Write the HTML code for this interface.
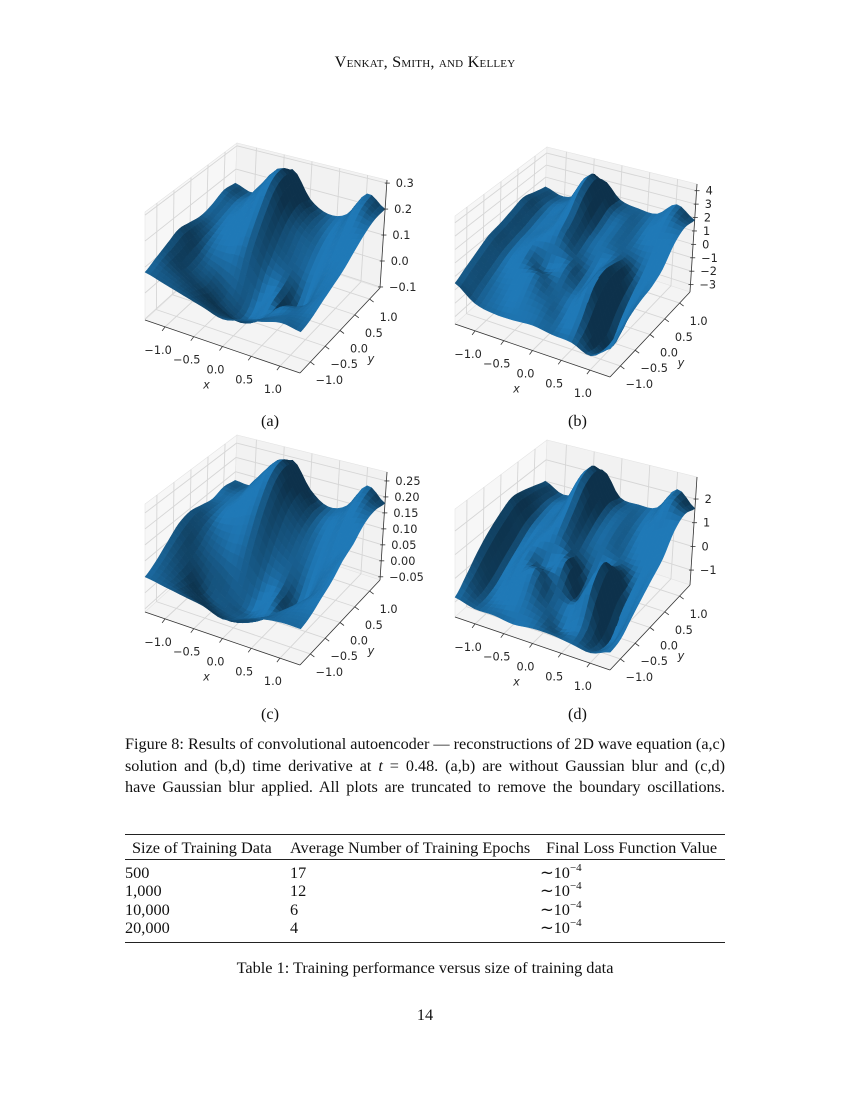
<!DOCTYPE html>
<html><head><meta charset="utf-8">
<style>
html,body{margin:0;padding:0;background:#fff;}
#page{position:relative;width:850px;height:1100px;overflow:hidden;font-family:"Liberation Serif",serif;color:#111;}
.t{position:absolute;white-space:nowrap;font-size:16.3px;}
.cap{position:absolute;left:125px;width:600px;font-size:16.2px;text-align:justify;text-align-last:justify;white-space:nowrap;}
.rule{position:absolute;left:125px;width:600px;background:#222;}
.sup{font-size:11px;position:relative;top:-7px;}
svg text{font-family:"DejaVu Sans",sans-serif;font-size:11.3px;fill:#262626;}
</style></head>
<body>
<div id="page">
<div class="t" style="left:0;width:850px;text-align:center;top:52px;font-size:16.3px;font-variant:small-caps;letter-spacing:0.2px;">Venkat, Smith, and Kelley</div>

<svg id="figs" width="850" height="1100" style="position:absolute;left:0;top:0"></svg>

<div class="t" style="left:261px;top:411px;">(a)</div>
<div class="t" style="left:568px;top:411px;">(b)</div>
<div class="t" style="left:261px;top:704px;">(c)</div>
<div class="t" style="left:568px;top:704px;">(d)</div>

<div class="cap" style="top:735px;">Figure 8: Results of convolutional autoencoder — reconstructions of 2D wave equation (a,c)</div>
<div class="cap" style="top:757px;">solution and (b,d) time derivative at <i>t</i> = 0.48. (a,b) are without Gaussian blur and (c,d)</div>
<div class="cap" style="top:778px;">have Gaussian blur applied. All plots are truncated to remove the boundary oscillations.</div>

<div>
<div class="rule" style="top:834px;height:1.3px;"></div>
<div class="t" style="left:132px;top:838px;">Size of Training Data</div>
<div class="t" style="left:290px;top:838px;">Average Number of Training Epochs</div>
<div class="t" style="left:546px;top:838px;">Final Loss Function Value</div>
<div class="rule" style="top:859px;height:0.8px;"></div>
<div class="t" style="left:125px;top:863px;">500</div>
<div class="t" style="left:290px;top:863px;">17</div>
<div class="t" style="left:540px;top:863px;">∼10<span class="sup">−4</span></div>
<div class="t" style="left:125px;top:881px;">1,000</div>
<div class="t" style="left:290px;top:881px;">12</div>
<div class="t" style="left:540px;top:881px;">∼10<span class="sup">−4</span></div>
<div class="t" style="left:125px;top:900px;">10,000</div>
<div class="t" style="left:290px;top:900px;">6</div>
<div class="t" style="left:540px;top:900px;">∼10<span class="sup">−4</span></div>
<div class="t" style="left:125px;top:918px;">20,000</div>
<div class="t" style="left:290px;top:918px;">4</div>
<div class="t" style="left:540px;top:918px;">∼10<span class="sup">−4</span></div>
<div class="rule" style="top:942px;height:1.3px;"></div>
</div>
<div class="t" style="left:0;width:850px;text-align:center;top:958px;">Table 1: Training performance versus size of training data</div>
<div class="t" style="left:0;width:850px;text-align:center;top:1005px;">14</div>
</div>

<script>
// ---- data ----
const xTicks = [-1.0, -0.5, 0.0, 0.5, 1.0];
const yTicks = [-1.0, -0.5, 0.0, 0.5, 1.0];
const xyRange = [-1.35, 1.35];
const zTicksA = [-0.1, 0.0, 0.1, 0.2, 0.3];
const zTicksB = [-3, -2, -1, 0, 1, 2, 3, 4];
const zTicksC = [-0.05, 0.00, 0.05, 0.10, 0.15, 0.20, 0.25];
const zTicksD = [-1, 0, 1, 2];
const zLimA = [-0.104, 0.312];
const zLimB = [-3.55, 4.5];
const zLimC = [-0.06, 0.278];
const zLimD = [-1.63, 2.93];
// rows: y = -1 .. 1 (9 rows); cols: x = -1 .. 1 (9 cols)
const surfA = [
[0.08,0.06,0.04,0.02,0.00,0.02,0.04,0.06,0.05],
[0.10,0.06,0.02,-0.02,-0.04,-0.02,0.02,0.05,0.06],
[0.12,0.05,0.00,-0.06,-0.09,-0.05,0.02,0.04,0.08],
[0.14,0.06,0.02,-0.03,-0.08,-0.02,-0.08,0.03,0.10],
[0.13,0.08,0.08,0.10,0.02,0.00,-0.06,0.06,0.12],
[0.12,0.10,0.14,0.20,0.10,0.04,0.02,0.10,0.15],
[0.13,0.12,0.20,0.28,0.16,0.10,0.08,0.16,0.18],
[0.15,0.13,0.22,0.30,0.18,0.12,0.12,0.22,0.20],
[0.14,0.12,0.18,0.26,0.16,0.12,0.14,0.24,0.20]];
const surfB = [
[-0.5,-1.5,-1.8,-1.8,-1.7,-1.9,-2.0,-2.5,-1.5],
[0.0,-1.0,-1.2,-0.8,-1.0,-1.5,-1.0,-3.0,-1.0],
[0.5,-0.5,-0.3,0.2,-0.5,-0.8,0.5,-3.2,-0.5],
[1.0,0.0,0.5,-0.2,0.3,-0.5,1.0,-2.0,-0.2],
[1.2,0.3,1.0,1.5,0.5,0.0,0.8,-1.0,0.0],
[1.5,0.5,1.2,2.5,1.0,0.8,0.5,-0.2,0.5],
[1.8,0.8,1.5,3.8,1.5,1.2,0.8,1.0,1.5],
[1.5,1.0,1.8,4.2,2.0,1.5,1.2,2.2,2.0],
[1.2,0.8,1.5,3.0,1.8,1.5,1.5,2.6,1.8]];
const surfC = [
[0.05,0.04,0.03,0.02,0.00,0.02,0.04,0.05,0.05],
[0.07,0.04,0.00,-0.03,-0.04,-0.02,0.02,0.05,0.06],
[0.10,0.05,-0.02,-0.05,-0.06,-0.04,0.00,0.05,0.08],
[0.13,0.07,0.02,-0.03,-0.06,-0.02,-0.05,0.04,0.10],
[0.14,0.10,0.08,0.08,0.02,0.00,-0.04,0.06,0.13],
[0.13,0.12,0.15,0.18,0.10,0.05,0.03,0.10,0.15],
[0.12,0.13,0.20,0.25,0.16,0.10,0.09,0.16,0.18],
[0.13,0.13,0.21,0.27,0.18,0.12,0.13,0.20,0.19],
[0.12,0.12,0.18,0.24,0.16,0.12,0.14,0.22,0.18]];
const surfD = [
[-0.8,-1.0,-1.0,-1.1,-1.0,-1.0,-1.1,-1.2,-0.9],
[-0.3,-1.0,-0.8,-0.5,-0.8,-1.2,-0.8,-1.5,-0.8],
[0.3,-0.8,-0.2,0.4,-0.4,-0.6,0.5,-1.5,-0.4],
[0.8,-0.4,0.3,0.0,0.5,-0.8,1.0,-0.8,0.0],
[1.2,0.0,0.6,1.0,0.4,-0.2,0.4,-0.3,0.4],
[1.5,0.4,0.8,1.8,0.8,0.5,0.2,0.2,0.8],
[1.4,0.6,1.0,2.6,1.2,0.9,0.6,1.0,1.5],
[1.2,0.7,1.2,2.8,1.4,1.1,1.0,2.0,1.8],
[1.0,0.6,1.0,2.2,1.2,1.1,1.2,2.2,1.6]];

const NS='http://www.w3.org/2000/svg';
const svg=document.getElementById('figs');
const C={'---':[145,320],'+--':[300,373],'++-':[380,288],'-+-':[233,240],
         '--+':[145,212],'+-+':[302,262],'+++':[387,180],'-++':[237,143]};
function mk(tag,attrs,parent){const e=document.createElementNS(NS,tag);for(const k in attrs)e.setAttribute(k,attrs[k]);parent.appendChild(e);return e;}
function cr(p0,p1,p2,p3,t){return 0.5*((2*p1)+(-p0+p2)*t+(2*p0-5*p1+4*p2-p3)*t*t+(-p0+3*p1-3*p2+p3)*t*t*t);}
function sampleRow(r,fx){const n=r.length;let i=Math.min(Math.floor(fx),n-2);const t=fx-i;const g=k=>r[Math.max(0,Math.min(n-1,k))];return cr(g(i-1),g(i),g(i+1),g(i+2),t);}
function sample(G,fx,fy){const n=G.length;let j=Math.min(Math.floor(fy),n-2);const t=fy-j;const g=k=>sampleRow(G[Math.max(0,Math.min(n-1,k))],fx);return cr(g(j-1),g(j),g(j+1),g(j+2),t);}

function panel(name,dx,dy,G,zLim,zTicks){
  const grp=mk('g',{transform:`translate(${dx},${dy})`},svg);
  
  
  function P(u,v,w){const a=(u+1)/2,b=(v+1)/2,c=(w+1)/2;let x=0,y=0;
    for(const su of [0,1])for(const sv of [0,1])for(const sw of [0,1]){
      const wt=(su?a:1-a)*(sv?b:1-b)*(sw?c:1-c);
      const p=C[(su?'+':'-')+(sv?'+':'-')+(sw?'+':'-')];x+=wt*p[0];y+=wt*p[1];}
    return [x,y];}
  const xs=t=>2*(t-xyRange[0])/(xyRange[1]-xyRange[0])-1;
  const zs=z=>2*(z-zLim[0])/(zLim[1]-zLim[0])-1;
  const poly=(pts,attrs)=>mk('polygon',Object.assign({points:pts.map(p=>p[0].toFixed(1)+','+p[1].toFixed(1)).join(' ')},attrs),grp);
  const line=(a,b,attrs)=>mk('line',Object.assign({x1:a[0],y1:a[1],x2:b[0],y2:b[1]},attrs),grp);
  const pl=poly([P(-1,-1,-1),P(-1,1,-1),P(-1,1,1),P(-1,-1,1)],{fill:'#f7f7f7',stroke:'#e4e4e4','stroke-width':0.6});
  
  const pb=poly([P(-1,1,-1),P(1,1,-1),P(1,1,1),P(-1,1,1)],{fill:'#f2f2f2',stroke:'#e4e4e4','stroke-width':0.6});
  
  const pf=poly([P(-1,-1,-1),P(1,-1,-1),P(1,1,-1),P(-1,1,-1)],{fill:'#f4f4f4',stroke:'#e4e4e4','stroke-width':0.6});
  
  const gs={stroke:'#d6d6d6','stroke-width':0.9};
  xTicks.forEach(t=>{const u=xs(t);line(P(u,-1,-1),P(u,1,-1),gs);line(P(u,1,-1),P(u,1,1),gs);});
  yTicks.forEach(t=>{const v=xs(t);line(P(-1,v,-1),P(1,v,-1),gs);line(P(-1,v,-1),P(-1,v,1),gs);});
  zTicks.forEach(t=>{const w=zs(t);line(P(-1,-1,w),P(-1,1,w),gs);line(P(-1,1,w),P(1,1,w),gs);});
  const ax={stroke:'#333','stroke-width':0.8};
  const xa=line(P(-1,-1,-1),P(1,-1,-1),ax);
  const ya=line(P(1,-1,-1),P(1,1,-1),ax);
  const za=line(P(1,1,-1),P(1,1,1),ax);
  const N=4,n=G.length,M=(n-1)*N;
  const pts=[];
  for(let j=0;j<=M;j++){pts.push([]);for(let i=0;i<=M;i++){
    const z=sample(G,i/N,j/N);const u=-1+2*i/M,v=-1+2*j/M;pts[j].push([u,v,Math.max(-1.05,Math.min(1.05,zs(z)))]);}}
  const quads=[];
  for(let j=0;j<M;j++)for(let i=0;i<M;i++){
    const a=pts[j][i],b=pts[j][i+1],c=pts[j+1][i+1],d=pts[j+1][i];
    const cu=(a[0]+c[0])/2,cv=(a[1]+c[1])/2,cw=(a[2]+b[2]+c[2]+d[2])/4;
    const depth=0.433*cu-0.75*cv+0.375*cw;
    const e1=[c[0]-a[0],c[1]-a[1],(c[2]-a[2])*0.75],e2=[d[0]-b[0],d[1]-b[1],(d[2]-b[2])*0.75];
    let nx=e1[1]*e2[2]-e1[2]*e2[1],ny=e1[2]*e2[0]-e1[0]*e2[2],nz=e1[0]*e2[1]-e1[1]*e2[0];
    const L=Math.hypot(nx,ny,nz)||1;nx/=L;ny/=L;nz/=L;if(nz<0){nx=-nx;ny=-ny;nz=-nz;}
    const lx=-0.45,ly=-0.55,lz=0.70;const dot=Math.max(0,nx*lx+ny*ly+nz*lz);
    const k=Math.min(1.02,0.42+0.62*dot);
    quads.push({depth,q:[a,b,c,d],k});}
  quads.sort((p,q)=>p.depth-q.depth);
  const sg=mk('g',{},grp);
  
  
  quads.forEach(o=>{const col=`rgb(${(31*o.k)|0},${(119*o.k)|0},${(180*o.k)|0})`;
    const pp=o.q.map(p=>P(p[0],p[1],p[2]));
    mk('polygon',{points:pp.map(p=>p[0].toFixed(1)+','+p[1].toFixed(1)).join(' '),fill:col,stroke:col,'stroke-width':0.5},sg);});
  xTicks.forEach(t=>{const p=P(xs(t),-1,-1);line(p,[p[0]-3,p[1]+4],ax);
    const tx=mk('text',{x:p[0]-7,y:p[1]+27,'text-anchor':'middle'},grp);tx.textContent=(t<0?'−':'')+Math.abs(t).toFixed(1);
    });
  yTicks.forEach(t=>{const p=P(1,xs(t),-1);line(p,[p[0]+4,p[1]+3],ax);
    const tx=mk('text',{x:p[0]+19,y:p[1]+22,'text-anchor':'middle'},grp);tx.textContent=(t<0?'−':'')+Math.abs(t).toFixed(1);
    });
  const dec=zTicks.some(t=>Math.abs(t*10-Math.round(t*10))>1e-6)?2:(zTicks.some(t=>t%1!==0)?1:0);
  zTicks.forEach(t=>{const p=P(1,1,zs(t));line([p[0]-2,p[1]],[p[0]+3,p[1]],ax);
    const tx=mk('text',{x:p[0]+9,y:p[1]+4,'text-anchor':'start'},grp);tx.textContent=(t<0?'−':'')+Math.abs(t).toFixed(dec);
    });
  const px=P(0,-1,-1);const xl=mk('text',{x:px[0]-16,y:px[1]+42,'font-style':'italic','text-anchor':'middle'},grp);xl.textContent='x';
  
  const py=P(1,0,-1);const yl=mk('text',{x:py[0]+31,y:py[1]+32,'font-style':'italic','text-anchor':'middle'},grp);yl.textContent='y';
  
}
panel('plot-a',0,0,surfA,zLimA,zTicksA);
panel('plot-b',310,4,surfB,zLimB,zTicksB);
panel('plot-c',0,292,surfC,zLimC,zTicksC);
panel('plot-d',310,297,surfD,zLimD,zTicksD);
</script>
</body></html>
